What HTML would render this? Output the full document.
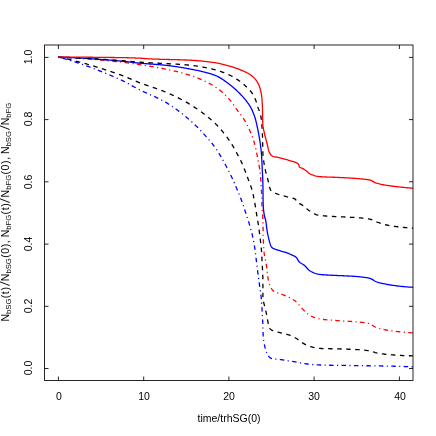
<!DOCTYPE html>
<html><head><meta charset="utf-8"><style>
html,body{margin:0;padding:0;background:#fff;}
body{width:436px;height:436px;position:relative;overflow:hidden;font-family:"Liberation Sans",sans-serif;color:#000;}
.t{will-change:transform;position:absolute;font-size:10.5px;line-height:12px;white-space:nowrap;}
.xt{width:40px;margin-left:-19.4px;text-align:center;top:390.0px;}
.yt{width:40px;height:12px;text-align:center;transform:rotate(-90deg);transform-origin:50% 50%;left:7.6px;margin-top:-6.3px;}
.yl{width:300px;height:14px;line-height:14px;text-align:center;transform:rotate(-90deg);transform-origin:50% 50%;left:-145px;top:205.3px;}
.yl sub{font-size:7.7px;vertical-align:baseline;position:relative;top:2.3px;line-height:0;margin-right:0.4px;}
.yl i{font-style:normal;letter-spacing:0.6px;}
.yl .s{display:inline-block;width:5.3px;position:relative;height:10px;vertical-align:baseline;}
.yl .s:after{content:"";position:absolute;left:2.2px;top:0.2px;width:0.8px;height:10.8px;background:#111;transform:rotate(21deg);}
</style></head><body>
<svg width="436" height="436" viewBox="0 0 436 436" style="position:absolute;left:0;top:0">
<defs><clipPath id="c"><rect x="44.5" y="45.0" width="368.5" height="335.5"/></clipPath></defs>
<g clip-path="url(#c)" fill="none" stroke-linejoin="round">
<path d="M58.20,57.10 L59.18,57.35 L60.16,57.60 L61.14,57.86 L62.11,58.12 L63.09,58.39 L64.06,58.66 L65.03,58.93 L66.00,59.20 L66.97,59.48 L67.94,59.76 L68.90,60.05 L69.87,60.34 L70.83,60.63 L71.79,60.92 L72.75,61.22 L73.71,61.52 L74.67,61.83 L75.63,62.13 L76.58,62.44 L77.54,62.76 L78.49,63.07 L79.44,63.39 L80.39,63.71 L81.34,64.04 L82.29,64.36 L83.23,64.69 L84.18,65.03 L85.12,65.36 L86.07,65.70 L87.01,66.04 L87.95,66.38 L88.89,66.73 L89.83,67.07 L90.76,67.42 L91.70,67.77 L92.64,68.13 L93.57,68.49 L94.50,68.84 L95.44,69.21 L96.37,69.57 L97.30,69.93 L98.23,70.30 L99.15,70.67 L100.08,71.04 L101.01,71.41 L101.93,71.79 L102.86,72.16 L103.78,72.54 L104.70,72.92 L105.62,73.30 L106.54,73.69 L107.46,74.07 L108.38,74.46 L109.30,74.85 L110.21,75.24 L111.13,75.63 L112.04,76.02 L112.96,76.41 L113.87,76.81 L114.78,77.20 L115.69,77.60 L116.61,78.00 L117.52,78.40 L118.42,78.80 L119.33,79.20 L120.24,79.61 L121.15,80.02 L122.04,80.44 L122.94,80.88 L123.83,81.32 L124.72,81.77 L125.61,82.23 L126.49,82.70 L127.38,83.17 L128.26,83.65 L129.14,84.13 L130.01,84.61 L130.89,85.10 L131.77,85.58 L132.65,86.07 L133.52,86.56 L134.40,87.04 L135.28,87.52 L136.16,88.00 L137.05,88.47 L137.93,88.94 L138.82,89.40 L139.71,89.86 L140.61,90.30 L141.51,90.74 L142.41,91.17 L143.32,91.60 L144.23,92.02 L145.14,92.44 L146.06,92.85 L146.97,93.27 L147.89,93.68 L148.81,94.08 L149.73,94.49 L150.65,94.90 L151.57,95.30 L152.49,95.71 L153.41,96.12 L154.32,96.53 L155.24,96.95 L156.15,97.36 L157.05,97.79 L157.96,98.21 L158.86,98.65 L159.75,99.09 L160.64,99.53 L161.52,99.99 L162.40,100.45 L163.27,100.92 L164.13,101.40 L164.99,101.89 L165.84,102.40 L166.69,102.91 L167.54,103.42 L168.38,103.95 L169.22,104.48 L170.06,105.02 L170.90,105.57 L171.73,106.12 L172.56,106.69 L173.39,107.25 L174.22,107.83 L175.04,108.41 L175.86,108.99 L176.67,109.59 L177.48,110.18 L178.29,110.79 L179.10,111.39 L179.90,112.00 L180.70,112.62 L181.49,113.24 L182.28,113.86 L183.07,114.49 L183.85,115.12 L184.63,115.76 L185.41,116.39 L186.18,117.03 L186.94,117.68 L187.70,118.32 L188.46,118.97 L189.21,119.62 L189.96,120.27 L190.70,120.92 L191.44,121.58 L192.18,122.25 L192.91,122.92 L193.64,123.60 L194.37,124.29 L195.09,124.98 L195.81,125.67 L196.52,126.37 L197.23,127.08 L197.94,127.79 L198.64,128.51 L199.34,129.23 L200.04,129.95 L200.73,130.68 L201.42,131.41 L202.11,132.14 L202.79,132.88 L203.47,133.62 L204.15,134.36 L204.82,135.11 L205.49,135.85 L206.16,136.60 L206.83,137.35 L207.49,138.11 L208.15,138.86 L208.80,139.61 L209.46,140.37 L210.11,141.12 L210.76,141.88 L211.40,142.65 L212.05,143.42 L212.68,144.20 L213.30,144.99 L213.91,145.78 L214.50,146.59 L215.07,147.40 L215.63,148.22 L216.18,149.04 L216.73,149.87 L217.27,150.71 L217.81,151.54 L218.34,152.39 L218.87,153.23 L219.39,154.08 L219.91,154.94 L220.43,155.80 L220.94,156.66 L221.44,157.52 L221.94,158.39 L222.44,159.26 L222.94,160.14 L223.43,161.01 L223.91,161.89 L224.39,162.78 L224.87,163.66 L225.35,164.54 L225.82,165.43 L226.29,166.32 L226.75,167.21 L227.21,168.10 L227.67,169.00 L228.13,169.89 L228.58,170.79 L229.03,171.68 L229.48,172.58 L229.93,173.48 L230.37,174.37 L230.81,175.27 L231.24,176.17 L231.68,177.07 L232.11,177.97 L232.53,178.87 L232.95,179.78 L233.36,180.69 L233.77,181.60 L234.17,182.52 L234.56,183.44 L234.96,184.36 L235.35,185.28 L235.74,186.20 L236.13,187.13 L236.51,188.05 L236.90,188.97 L237.28,189.90 L237.67,190.82 L238.05,191.74 L238.44,192.67 L238.82,193.59 L239.20,194.52 L239.58,195.44 L239.95,196.37 L240.32,197.30 L240.69,198.23 L241.05,199.16 L241.41,200.10 L241.76,201.03 L242.10,201.97 L242.43,202.91 L242.76,203.86 L243.08,204.80 L243.40,205.75 L243.71,206.70 L244.02,207.65 L244.33,208.60 L244.64,209.56 L244.94,210.51 L245.25,211.46 L245.55,212.42 L245.86,213.37 L246.17,214.32 L246.48,215.27 L246.80,216.22 L247.11,217.17 L247.43,218.12 L247.74,219.07 L248.05,220.02 L248.36,220.97 L248.66,221.92 L248.96,222.88 L249.25,223.83 L249.54,224.79 L249.82,225.75 L250.09,226.71 L250.37,227.67 L250.64,228.64 L250.90,229.60 L251.17,230.57 L251.42,231.54 L251.67,232.50 L251.91,233.47 L252.15,234.45 L252.37,235.42 L252.59,236.39 L252.80,237.37 L253.00,238.35 L253.20,239.33 L253.40,240.31 L253.59,241.29 L253.78,242.28 L253.96,243.26 L254.14,244.24 L254.31,245.23 L254.48,246.22 L254.64,247.20 L254.79,248.19 L254.94,249.18 L255.08,250.17 L255.22,251.16 L255.35,252.15 L255.48,253.14 L255.60,254.13 L255.72,255.13 L255.84,256.12 L255.95,257.11 L256.07,258.11 L256.19,259.10 L256.30,260.10 L256.42,261.09 L256.55,262.08 L256.67,263.07 L256.79,264.07 L256.91,265.06 L257.04,266.05 L257.16,267.04 L257.28,268.04 L257.40,269.03 L257.52,270.02 L257.65,271.01 L257.77,272.01 L257.89,273.00 L258.02,273.99 L258.15,274.98 L258.28,275.97 L258.41,276.96 L258.55,277.96 L258.68,278.95 L258.82,279.94 L258.95,280.93 L259.09,281.92 L259.23,282.91 L259.36,283.90 L259.50,284.89 L259.63,285.88 L259.76,286.87 L259.90,287.86 L260.04,288.85 L260.19,289.84 L260.33,290.83 L260.48,291.82 L260.62,292.82 L260.76,293.81 L260.89,294.80 L261.01,295.79 L261.13,296.78 L261.23,297.78 L261.32,298.77 L261.41,299.77 L261.49,300.76 L261.56,301.76 L261.63,302.76 L261.70,303.75 L261.76,304.75 L261.82,305.75 L261.88,306.75 L261.94,307.75 L262.00,308.75 L262.06,309.75 L262.11,310.74 L262.18,311.74 L262.24,312.74 L262.30,313.74 L262.36,314.74 L262.41,315.74 L262.47,316.73 L262.53,317.73 L262.58,318.73 L262.64,319.73 L262.69,320.73 L262.73,321.73 L262.78,322.73 L262.82,323.73 L262.85,324.73 L262.88,325.73 L262.91,326.73 L262.93,327.73 L262.96,328.73 L262.98,329.73 L263.01,330.73 L263.03,331.73 L263.06,332.73 L263.10,333.73 L263.14,334.73 L263.19,335.72 L263.24,336.72 L263.33,337.71 L263.43,338.71 L263.56,339.70 L263.70,340.70 L263.86,341.69 L264.03,342.68 L264.22,343.67 L264.41,344.65 L264.61,345.62 L264.82,346.59 L265.04,347.57 L265.29,348.56 L265.57,349.54 L265.87,350.52 L266.20,351.48 L266.57,352.41 L266.96,353.31 L267.39,354.16 L267.89,355.06 L268.49,355.99 L269.16,356.86 L269.89,357.59 L270.64,358.09 L271.42,358.36 L272.27,358.58 L273.19,358.76 L274.15,358.91 L275.16,359.04 L276.19,359.16 L277.24,359.26 L278.31,359.37 L279.37,359.47 L280.42,359.58 L281.45,359.71 L282.44,359.85 L283.43,360.00 L284.42,360.15 L285.41,360.31 L286.40,360.46 L287.38,360.61 L288.37,360.77 L289.36,360.93 L290.35,361.09 L291.33,361.24 L292.32,361.40 L293.31,361.56 L294.30,361.72 L295.28,361.88 L296.27,362.04 L297.26,362.21 L298.24,362.39 L299.23,362.58 L300.21,362.77 L301.20,362.96 L302.18,363.15 L303.17,363.33 L304.15,363.51 L305.14,363.68 L306.12,363.84 L307.11,363.99 L308.10,364.12 L309.09,364.23 L310.08,364.32 L311.08,364.41 L312.07,364.49 L313.07,364.56 L314.06,364.64 L315.06,364.70 L316.06,364.77 L317.06,364.83 L318.06,364.88 L319.06,364.93 L320.06,364.98 L321.06,365.02 L322.06,365.06 L323.06,365.09 L324.06,365.11 L325.06,365.14 L326.06,365.16 L327.06,365.18 L328.06,365.21 L329.06,365.23 L330.06,365.25 L331.05,365.27 L332.05,365.28 L333.05,365.30 L334.05,365.32 L335.05,365.33 L336.05,365.35 L337.05,365.36 L338.05,365.37 L339.05,365.39 L340.05,365.40 L341.05,365.41 L342.05,365.43 L343.05,365.44 L344.05,365.45 L345.05,365.46 L346.05,365.47 L347.05,365.48 L348.05,365.49 L349.05,365.50 L350.05,365.51 L351.05,365.52 L352.05,365.54 L353.06,365.55 L354.06,365.56 L355.06,365.57 L356.06,365.58 L357.06,365.59 L358.06,365.60 L359.06,365.62 L360.06,365.63 L361.06,365.64 L362.06,365.66 L363.06,365.67 L364.06,365.69 L365.06,365.70 L366.06,365.72 L367.06,365.74 L368.06,365.75 L369.06,365.77 L370.06,365.79 L371.06,365.80 L372.05,365.82 L373.05,365.83 L374.05,365.85 L375.05,365.87 L376.05,365.89 L377.05,365.90 L378.05,365.92 L379.05,365.94 L380.05,365.95 L381.05,365.97 L382.05,365.99 L383.05,366.01 L384.05,366.03 L385.05,366.05 L386.05,366.07 L387.05,366.09 L388.05,366.11 L389.05,366.13 L390.05,366.15 L391.05,366.17 L392.05,366.19 L393.05,366.22 L394.05,366.24 L395.05,366.27 L396.05,366.29 L397.05,366.32 L398.05,366.34 L399.05,366.37 L400.05,366.40 L401.05,366.43 L402.05,366.45 L403.05,366.48 L404.05,366.51 L405.05,366.54 L406.05,366.57 L407.05,366.61 L408.05,366.64 L409.04,366.67 L410.04,366.70 L411.04,366.73 L412.04,366.77 L413.00,366.80" stroke="#0000ff" stroke-width="1.3" stroke-dasharray="1.13,3.39,4.52,3.39"/>
<path d="M58.20,57.10 L59.19,57.30 L60.18,57.50 L61.16,57.70 L62.15,57.91 L63.13,58.11 L64.12,58.33 L65.10,58.54 L66.08,58.76 L67.06,58.98 L68.04,59.21 L69.02,59.43 L70.00,59.66 L70.97,59.90 L71.95,60.13 L72.93,60.37 L73.90,60.61 L74.87,60.86 L75.84,61.10 L76.82,61.35 L77.79,61.60 L78.76,61.86 L79.73,62.11 L80.69,62.37 L81.66,62.63 L82.63,62.90 L83.59,63.16 L84.56,63.43 L85.52,63.70 L86.48,63.97 L87.45,64.25 L88.41,64.53 L89.37,64.80 L90.33,65.09 L91.29,65.37 L92.25,65.65 L93.21,65.94 L94.16,66.23 L95.12,66.52 L96.07,66.81 L97.03,67.11 L97.98,67.40 L98.94,67.70 L99.89,68.00 L100.84,68.30 L101.79,68.61 L102.74,68.91 L103.69,69.22 L104.64,69.52 L105.59,69.83 L106.54,70.14 L107.49,70.46 L108.44,70.77 L109.38,71.08 L110.33,71.40 L111.27,71.72 L112.22,72.03 L113.16,72.35 L114.11,72.67 L115.05,72.99 L115.99,73.32 L116.94,73.64 L117.88,73.96 L118.82,74.29 L119.76,74.62 L120.70,74.95 L121.63,75.29 L122.57,75.64 L123.50,76.00 L124.42,76.37 L125.35,76.74 L126.27,77.12 L127.20,77.51 L128.12,77.90 L129.04,78.30 L129.96,78.69 L130.88,79.09 L131.80,79.49 L132.72,79.89 L133.64,80.29 L134.56,80.68 L135.48,81.07 L136.40,81.46 L137.33,81.84 L138.26,82.22 L139.19,82.59 L140.12,82.95 L141.05,83.30 L141.99,83.64 L142.93,83.99 L143.88,84.32 L144.82,84.65 L145.77,84.98 L146.72,85.30 L147.67,85.63 L148.62,85.95 L149.57,86.26 L150.52,86.58 L151.47,86.90 L152.42,87.22 L153.37,87.53 L154.32,87.85 L155.27,88.18 L156.21,88.50 L157.16,88.83 L158.10,89.16 L159.04,89.50 L159.98,89.84 L160.92,90.19 L161.85,90.54 L162.78,90.90 L163.70,91.27 L164.62,91.64 L165.54,92.03 L166.46,92.42 L167.38,92.81 L168.29,93.21 L169.21,93.61 L170.12,94.02 L171.04,94.43 L171.95,94.85 L172.86,95.28 L173.77,95.70 L174.68,96.14 L175.58,96.57 L176.49,97.01 L177.39,97.46 L178.29,97.91 L179.19,98.37 L180.08,98.83 L180.97,99.29 L181.86,99.76 L182.74,100.24 L183.62,100.72 L184.50,101.20 L185.37,101.69 L186.23,102.18 L187.10,102.67 L187.96,103.18 L188.81,103.68 L189.66,104.19 L190.50,104.71 L191.34,105.23 L192.19,105.75 L193.03,106.29 L193.87,106.83 L194.71,107.37 L195.55,107.93 L196.39,108.48 L197.22,109.05 L198.06,109.62 L198.89,110.19 L199.71,110.77 L200.54,111.36 L201.36,111.95 L202.17,112.55 L202.99,113.15 L203.79,113.76 L204.60,114.37 L205.39,114.99 L206.19,115.61 L206.97,116.24 L207.76,116.88 L208.53,117.51 L209.30,118.16 L210.06,118.81 L210.82,119.46 L211.56,120.12 L212.30,120.78 L213.03,121.45 L213.76,122.12 L214.47,122.79 L215.18,123.47 L215.88,124.16 L216.57,124.86 L217.27,125.57 L217.95,126.29 L218.63,127.02 L219.31,127.76 L219.98,128.51 L220.64,129.26 L221.30,130.03 L221.95,130.80 L222.59,131.57 L223.23,132.35 L223.87,133.14 L224.49,133.93 L225.11,134.73 L225.73,135.53 L226.33,136.34 L226.93,137.15 L227.52,137.96 L228.11,138.78 L228.69,139.59 L229.25,140.41 L229.82,141.23 L230.37,142.05 L230.91,142.88 L231.44,143.72 L231.97,144.57 L232.48,145.42 L232.99,146.29 L233.49,147.15 L233.99,148.02 L234.48,148.90 L234.96,149.78 L235.45,150.66 L235.92,151.54 L236.40,152.43 L236.88,153.31 L237.35,154.19 L237.82,155.08 L238.30,155.96 L238.78,156.84 L239.25,157.72 L239.71,158.60 L240.17,159.49 L240.62,160.39 L241.05,161.29 L241.47,162.19 L241.88,163.10 L242.28,164.02 L242.68,164.94 L243.06,165.86 L243.44,166.79 L243.82,167.72 L244.19,168.65 L244.56,169.58 L244.93,170.51 L245.29,171.44 L245.66,172.37 L246.01,173.30 L246.37,174.24 L246.72,175.17 L247.07,176.11 L247.42,177.05 L247.76,177.99 L248.11,178.93 L248.45,179.86 L248.80,180.80 L249.15,181.74 L249.51,182.67 L249.87,183.61 L250.23,184.55 L250.57,185.49 L250.91,186.43 L251.23,187.37 L251.53,188.33 L251.81,189.28 L252.07,190.24 L252.33,191.21 L252.57,192.18 L252.80,193.15 L253.03,194.13 L253.25,195.11 L253.46,196.09 L253.67,197.07 L253.87,198.04 L254.07,199.02 L254.26,200.01 L254.44,200.99 L254.62,201.97 L254.79,202.96 L254.96,203.94 L255.13,204.93 L255.30,205.92 L255.47,206.90 L255.63,207.89 L255.79,208.88 L255.94,209.86 L256.09,210.85 L256.24,211.84 L256.40,212.83 L256.55,213.82 L256.70,214.81 L256.86,215.79 L257.03,216.78 L257.19,217.76 L257.36,218.75 L257.53,219.74 L257.70,220.72 L257.86,221.71 L258.02,222.70 L258.17,223.68 L258.33,224.67 L258.48,225.66 L258.62,226.65 L258.77,227.64 L258.91,228.63 L259.06,229.62 L259.20,230.61 L259.33,231.60 L259.46,232.59 L259.60,233.58 L259.72,234.57 L259.85,235.57 L259.97,236.56 L260.08,237.55 L260.20,238.55 L260.31,239.54 L260.42,240.53 L260.53,241.53 L260.64,242.52 L260.75,243.52 L260.85,244.51 L260.96,245.50 L261.07,246.50 L261.18,247.49 L261.29,248.49 L261.39,249.48 L261.48,250.48 L261.56,251.48 L261.63,252.47 L261.69,253.47 L261.75,254.47 L261.80,255.47 L261.85,256.47 L261.90,257.46 L261.95,258.46 L261.99,259.46 L262.04,260.46 L262.09,261.46 L262.14,262.46 L262.19,263.46 L262.25,264.46 L262.30,265.46 L262.36,266.45 L262.41,267.45 L262.47,268.45 L262.52,269.45 L262.56,270.45 L262.60,271.45 L262.64,272.45 L262.68,273.45 L262.73,274.45 L262.77,275.44 L262.81,276.44 L262.84,277.44 L262.87,278.44 L262.89,279.44 L262.90,280.44 L262.90,281.44 L262.90,282.44 L262.90,283.45 L262.90,284.45 L262.90,285.45 L262.90,286.46 L262.90,287.46 L262.90,288.46 L262.90,289.47 L262.90,290.47 L262.90,291.47 L262.90,292.47 L262.90,293.47 L262.90,294.47 L262.90,295.46 L262.90,296.45 L262.90,297.45 L262.92,298.43 L263.03,299.42 L263.19,300.40 L263.40,301.38 L263.65,302.36 L263.91,303.34 L264.17,304.32 L264.41,305.29 L264.63,306.27 L264.85,307.24 L265.09,308.22 L265.33,309.19 L265.58,310.16 L265.82,311.13 L266.06,312.10 L266.29,313.07 L266.50,314.05 L266.71,315.03 L266.89,316.01 L267.06,317.00 L267.22,317.99 L267.38,318.98 L267.54,319.97 L267.71,320.95 L267.90,321.93 L268.11,322.91 L268.34,323.89 L268.58,324.93 L268.84,325.98 L269.14,326.99 L269.50,327.91 L269.91,328.67 L270.48,329.29 L271.30,329.83 L272.26,330.30 L273.27,330.72 L274.22,331.08 L275.15,331.40 L276.11,331.68 L277.07,331.94 L278.05,332.18 L279.03,332.42 L280.01,332.65 L280.99,332.89 L281.96,333.15 L282.93,333.39 L283.91,333.62 L284.89,333.86 L285.87,334.09 L286.84,334.33 L287.81,334.59 L288.76,334.86 L289.71,335.16 L290.63,335.50 L291.56,335.87 L292.47,336.29 L293.38,336.74 L294.27,337.21 L295.14,337.70 L296.00,338.20 L296.83,338.74 L297.63,339.34 L298.42,339.97 L299.20,340.61 L299.99,341.24 L300.79,341.83 L301.62,342.37 L302.47,342.89 L303.34,343.40 L304.22,343.90 L305.11,344.39 L306.01,344.85 L306.92,345.29 L307.84,345.69 L308.76,346.05 L309.69,346.37 L310.63,346.65 L311.59,346.92 L312.56,347.19 L313.53,347.44 L314.52,347.67 L315.51,347.89 L316.50,348.07 L317.49,348.22 L318.49,348.33 L319.48,348.40 L320.47,348.45 L321.46,348.50 L322.45,348.54 L323.45,348.57 L324.45,348.60 L325.45,348.63 L326.45,348.66 L327.45,348.68 L328.45,348.70 L329.45,348.72 L330.46,348.74 L331.46,348.76 L332.46,348.78 L333.47,348.80 L334.47,348.82 L335.47,348.85 L336.47,348.88 L337.47,348.91 L338.47,348.94 L339.47,348.97 L340.47,348.99 L341.47,349.02 L342.47,349.05 L343.47,349.08 L344.47,349.11 L345.47,349.14 L346.47,349.17 L347.47,349.20 L348.47,349.23 L349.47,349.26 L350.47,349.30 L351.47,349.33 L352.47,349.37 L353.47,349.41 L354.47,349.45 L355.47,349.50 L356.47,349.55 L357.46,349.60 L358.46,349.65 L359.46,349.71 L360.45,349.78 L361.45,349.86 L362.45,349.95 L363.45,350.05 L364.44,350.17 L365.44,350.29 L366.43,350.43 L367.42,350.57 L368.40,350.72 L369.38,350.89 L370.36,351.10 L371.32,351.36 L372.28,351.64 L373.25,351.94 L374.21,352.23 L375.17,352.52 L376.14,352.77 L377.11,352.98 L378.09,353.16 L379.07,353.34 L380.06,353.50 L381.04,353.67 L382.03,353.82 L383.03,353.97 L384.02,354.11 L385.01,354.24 L386.01,354.36 L387.00,354.47 L388.00,354.57 L389.00,354.65 L389.99,354.73 L390.98,354.80 L391.98,354.87 L392.97,354.94 L393.97,355.01 L394.97,355.08 L395.96,355.15 L396.96,355.21 L397.96,355.28 L398.95,355.34 L399.95,355.39 L400.95,355.45 L401.95,355.50 L402.95,355.55 L403.95,355.59 L404.95,355.63 L405.95,355.67 L406.95,355.70 L407.95,355.73 L408.95,355.76 L409.96,355.77 L410.96,355.79 L411.96,355.80 L412.97,355.80 L413.00,355.80" stroke="#000" stroke-width="1.3" stroke-dasharray="4.52,4.52"/>
<path d="M58.20,57.10 L59.20,57.14 L60.20,57.18 L61.20,57.22 L62.20,57.27 L63.20,57.31 L64.20,57.36 L65.20,57.41 L66.20,57.46 L67.20,57.51 L68.20,57.57 L69.20,57.62 L70.20,57.68 L71.20,57.74 L72.20,57.80 L73.20,57.86 L74.20,57.92 L75.20,57.99 L76.20,58.06 L77.19,58.12 L78.19,58.19 L79.19,58.26 L80.19,58.34 L81.19,58.41 L82.18,58.48 L83.18,58.56 L84.18,58.64 L85.18,58.71 L86.17,58.79 L87.17,58.87 L88.17,58.95 L89.16,59.04 L90.16,59.12 L91.16,59.21 L92.15,59.29 L93.15,59.38 L94.15,59.47 L95.14,59.55 L96.14,59.64 L97.13,59.73 L98.13,59.83 L99.12,59.92 L100.12,60.01 L101.11,60.10 L102.11,60.20 L103.10,60.29 L104.10,60.39 L105.09,60.49 L106.09,60.58 L107.08,60.68 L108.08,60.78 L109.07,60.88 L110.07,60.98 L111.06,61.08 L112.06,61.18 L113.05,61.28 L114.04,61.38 L115.04,61.49 L116.03,61.59 L117.03,61.69 L118.02,61.79 L119.01,61.90 L120.01,62.00 L121.00,62.11 L121.99,62.22 L122.99,62.33 L123.98,62.45 L124.97,62.57 L125.96,62.70 L126.95,62.82 L127.95,62.96 L128.94,63.09 L129.93,63.22 L130.92,63.36 L131.91,63.50 L132.90,63.65 L133.89,63.79 L134.88,63.93 L135.87,64.08 L136.86,64.23 L137.85,64.38 L138.84,64.53 L139.83,64.67 L140.82,64.82 L141.80,64.97 L142.79,65.12 L143.78,65.28 L144.77,65.43 L145.76,65.58 L146.75,65.74 L147.74,65.90 L148.72,66.06 L149.71,66.22 L150.70,66.38 L151.69,66.54 L152.67,66.71 L153.66,66.88 L154.65,67.05 L155.63,67.22 L156.62,67.40 L157.60,67.58 L158.58,67.76 L159.57,67.94 L160.55,68.12 L161.53,68.31 L162.51,68.50 L163.49,68.70 L164.47,68.89 L165.45,69.09 L166.43,69.29 L167.41,69.50 L168.39,69.71 L169.37,69.91 L170.35,70.13 L171.33,70.34 L172.31,70.56 L173.29,70.78 L174.27,71.01 L175.25,71.23 L176.22,71.47 L177.20,71.70 L178.18,71.94 L179.15,72.19 L180.12,72.44 L181.09,72.69 L182.06,72.95 L183.02,73.21 L183.99,73.48 L184.95,73.75 L185.90,74.03 L186.86,74.31 L187.81,74.60 L188.75,74.90 L189.70,75.20 L190.64,75.51 L191.58,75.83 L192.52,76.15 L193.46,76.48 L194.41,76.82 L195.35,77.17 L196.30,77.53 L197.24,77.90 L198.19,78.27 L199.13,78.65 L200.06,79.04 L201.00,79.44 L201.93,79.84 L202.86,80.25 L203.78,80.67 L204.70,81.10 L205.61,81.53 L206.52,81.98 L207.42,82.43 L208.32,82.88 L209.20,83.35 L210.08,83.82 L210.95,84.30 L211.81,84.79 L212.67,85.28 L213.51,85.78 L214.34,86.29 L215.16,86.80 L215.98,87.34 L216.79,87.89 L217.59,88.47 L218.39,89.06 L219.18,89.67 L219.97,90.30 L220.74,90.95 L221.51,91.61 L222.28,92.28 L223.03,92.96 L223.78,93.66 L224.51,94.36 L225.24,95.07 L225.95,95.78 L226.66,96.50 L227.36,97.23 L228.04,97.95 L228.71,98.68 L229.37,99.41 L230.01,100.16 L230.64,100.93 L231.25,101.71 L231.86,102.50 L232.45,103.31 L233.04,104.12 L233.62,104.94 L234.19,105.77 L234.76,106.60 L235.33,107.43 L235.91,108.26 L236.48,109.08 L237.06,109.90 L237.65,110.72 L238.24,111.52 L238.85,112.32 L239.46,113.11 L240.08,113.91 L240.70,114.70 L241.32,115.49 L241.92,116.29 L242.51,117.09 L243.09,117.91 L243.64,118.73 L244.17,119.57 L244.68,120.43 L245.17,121.29 L245.66,122.16 L246.13,123.05 L246.60,123.94 L247.05,124.83 L247.50,125.73 L247.93,126.64 L248.36,127.54 L248.79,128.45 L249.21,129.35 L249.63,130.26 L250.05,131.17 L250.46,132.09 L250.86,133.00 L251.26,133.93 L251.65,134.85 L252.02,135.78 L252.37,136.71 L252.71,137.65 L253.03,138.59 L253.33,139.54 L253.62,140.49 L253.91,141.45 L254.18,142.42 L254.44,143.38 L254.69,144.35 L254.94,145.32 L255.18,146.30 L255.42,147.27 L255.65,148.25 L255.87,149.22 L256.09,150.20 L256.30,151.17 L256.51,152.15 L256.71,153.13 L256.90,154.11 L257.09,155.09 L257.28,156.08 L257.46,157.06 L257.64,158.05 L257.82,159.03 L258.00,160.01 L258.19,161.00 L258.38,161.98 L258.57,162.96 L258.76,163.95 L258.95,164.93 L259.14,165.91 L259.33,166.90 L259.50,167.88 L259.67,168.87 L259.83,169.86 L259.97,170.85 L260.09,171.83 L260.20,172.83 L260.30,173.82 L260.39,174.81 L260.48,175.80 L260.57,176.80 L260.65,177.80 L260.72,178.79 L260.80,179.79 L260.87,180.79 L260.94,181.79 L261.00,182.79 L261.06,183.79 L261.12,184.78 L261.18,185.78 L261.24,186.78 L261.29,187.78 L261.34,188.78 L261.39,189.78 L261.44,190.78 L261.49,191.78 L261.54,192.78 L261.58,193.78 L261.62,194.78 L261.66,195.78 L261.69,196.78 L261.73,197.78 L261.76,198.78 L261.79,199.78 L261.82,200.78 L261.86,201.78 L261.89,202.78 L261.92,203.77 L261.96,204.77 L262.00,205.77 L262.04,206.77 L262.09,207.77 L262.14,208.77 L262.20,209.77 L262.27,210.76 L262.35,211.76 L262.43,212.76 L262.51,213.76 L262.59,214.75 L262.66,215.75 L262.74,216.75 L262.80,217.75 L262.85,218.75 L262.89,219.74 L262.92,220.74 L262.95,221.74 L262.97,222.74 L262.99,223.74 L263.01,224.74 L263.02,225.74 L263.04,226.74 L263.05,227.74 L263.07,228.74 L263.08,229.74 L263.09,230.74 L263.11,231.74 L263.13,232.74 L263.15,233.74 L263.17,234.74 L263.19,235.74 L263.22,236.74 L263.25,237.74 L263.28,238.74 L263.32,239.74 L263.35,240.74 L263.39,241.75 L263.43,242.75 L263.48,243.75 L263.53,244.75 L263.58,245.75 L263.64,246.75 L263.70,247.75 L263.76,248.74 L263.83,249.74 L263.90,250.73 L263.98,251.72 L264.07,252.71 L264.19,253.70 L264.35,254.68 L264.53,255.67 L264.73,256.65 L264.94,257.63 L265.16,258.61 L265.38,259.59 L265.59,260.57 L265.79,261.55 L265.97,262.54 L266.13,263.52 L266.28,264.51 L266.42,265.50 L266.56,266.49 L266.69,267.49 L266.82,268.48 L266.94,269.47 L267.07,270.46 L267.21,271.45 L267.34,272.45 L267.45,273.44 L267.57,274.44 L267.68,275.44 L267.80,276.44 L267.93,277.43 L268.06,278.42 L268.21,279.41 L268.38,280.38 L268.58,281.35 L268.81,282.33 L269.10,283.30 L269.43,284.26 L269.79,285.20 L270.18,286.11 L270.59,287.00 L271.08,287.91 L271.62,288.82 L272.22,289.69 L272.86,290.46 L273.55,291.09 L274.30,291.58 L275.16,291.99 L276.09,292.36 L277.08,292.69 L278.08,293.01 L279.07,293.34 L280.02,293.68 L280.96,294.03 L281.90,294.37 L282.84,294.71 L283.78,295.05 L284.71,295.41 L285.63,295.80 L286.54,296.21 L287.45,296.64 L288.35,297.08 L289.24,297.54 L290.12,298.02 L290.99,298.50 L291.87,298.98 L292.76,299.47 L293.64,299.98 L294.49,300.51 L295.31,301.07 L296.08,301.67 L296.80,302.33 L297.48,303.04 L298.13,303.80 L298.76,304.59 L299.38,305.40 L300.01,306.20 L300.65,306.97 L301.33,307.72 L302.02,308.44 L302.72,309.16 L303.43,309.90 L304.14,310.64 L304.87,311.37 L305.60,312.08 L306.35,312.77 L307.11,313.43 L307.88,314.04 L308.68,314.61 L309.49,315.13 L310.33,315.59 L311.20,316.04 L312.10,316.47 L313.02,316.90 L313.96,317.30 L314.91,317.67 L315.88,318.01 L316.85,318.31 L317.83,318.58 L318.80,318.79 L319.76,318.96 L320.73,319.11 L321.70,319.24 L322.69,319.37 L323.67,319.48 L324.66,319.59 L325.66,319.69 L326.65,319.79 L327.66,319.87 L328.66,319.96 L329.66,320.04 L330.67,320.11 L331.68,320.19 L332.68,320.26 L333.69,320.33 L334.69,320.40 L335.70,320.48 L336.70,320.55 L337.69,320.63 L338.69,320.71 L339.69,320.78 L340.69,320.84 L341.68,320.91 L342.68,320.97 L343.68,321.03 L344.68,321.09 L345.68,321.15 L346.68,321.21 L347.68,321.27 L348.67,321.33 L349.67,321.39 L350.67,321.45 L351.67,321.52 L352.67,321.59 L353.66,321.66 L354.66,321.74 L355.66,321.82 L356.65,321.90 L357.65,321.99 L358.66,322.08 L359.67,322.17 L360.68,322.26 L361.69,322.36 L362.69,322.47 L363.69,322.59 L364.69,322.72 L365.67,322.86 L366.64,323.02 L367.60,323.20 L368.53,323.41 L369.45,323.73 L370.34,324.15 L371.22,324.64 L372.09,325.17 L372.97,325.72 L373.85,326.25 L374.74,326.73 L375.65,327.14 L376.58,327.48 L377.52,327.81 L378.47,328.12 L379.43,328.42 L380.40,328.70 L381.37,328.97 L382.34,329.21 L383.32,329.44 L384.29,329.64 L385.27,329.83 L386.25,330.01 L387.23,330.18 L388.22,330.34 L389.20,330.50 L390.19,330.65 L391.19,330.79 L392.18,330.93 L393.17,331.06 L394.17,331.18 L395.16,331.30 L396.16,331.42 L397.15,331.53 L398.15,331.64 L399.14,331.74 L400.13,331.85 L401.13,331.95 L402.12,332.05 L403.12,332.14 L404.11,332.24 L405.11,332.33 L406.11,332.41 L407.10,332.50 L408.10,332.58 L409.10,332.65 L410.10,332.72 L411.09,332.79 L412.09,332.85 L413.00,332.90" stroke="#ff0000" stroke-width="1.3" stroke-dasharray="1.13,3.39,4.52,3.39"/>
<path d="M58.20,57.10 L59.20,57.13 L60.20,57.16 L61.20,57.19 L62.20,57.22 L63.20,57.26 L64.20,57.30 L65.20,57.33 L66.20,57.37 L67.20,57.41 L68.20,57.46 L69.20,57.50 L70.20,57.54 L71.20,57.59 L72.20,57.64 L73.20,57.69 L74.20,57.74 L75.20,57.79 L76.20,57.84 L77.20,57.89 L78.20,57.95 L79.20,58.00 L80.20,58.06 L81.19,58.12 L82.19,58.18 L83.19,58.24 L84.19,58.30 L85.19,58.36 L86.19,58.43 L87.18,58.49 L88.18,58.55 L89.18,58.62 L90.18,58.69 L91.18,58.76 L92.17,58.82 L93.17,58.89 L94.17,58.96 L95.17,59.04 L96.16,59.11 L97.16,59.18 L98.16,59.25 L99.15,59.33 L100.15,59.40 L101.15,59.48 L102.15,59.55 L103.14,59.63 L104.14,59.71 L105.14,59.79 L106.13,59.86 L107.13,59.94 L108.12,60.02 L109.12,60.10 L110.12,60.18 L111.11,60.26 L112.11,60.34 L113.11,60.43 L114.10,60.51 L115.10,60.59 L116.09,60.67 L117.09,60.76 L118.09,60.84 L119.08,60.92 L120.08,61.01 L121.07,61.09 L122.07,61.19 L123.06,61.29 L124.06,61.39 L125.05,61.50 L126.04,61.61 L127.04,61.72 L128.03,61.84 L129.02,61.96 L130.02,62.08 L131.01,62.20 L132.00,62.32 L133.00,62.44 L133.99,62.56 L134.98,62.67 L135.98,62.78 L136.97,62.89 L137.97,63.00 L138.96,63.10 L139.96,63.20 L140.95,63.29 L141.95,63.37 L142.94,63.46 L143.94,63.54 L144.94,63.62 L145.94,63.69 L146.93,63.77 L147.93,63.84 L148.93,63.91 L149.93,63.98 L150.93,64.05 L151.93,64.12 L152.92,64.19 L153.92,64.26 L154.92,64.34 L155.92,64.41 L156.92,64.48 L157.91,64.56 L158.91,64.64 L159.90,64.72 L160.90,64.81 L161.90,64.90 L162.89,64.99 L163.88,65.09 L164.88,65.19 L165.87,65.29 L166.86,65.40 L167.86,65.52 L168.85,65.64 L169.84,65.76 L170.83,65.89 L171.83,66.02 L172.82,66.15 L173.81,66.29 L174.80,66.43 L175.79,66.58 L176.78,66.73 L177.77,66.88 L178.76,67.03 L179.75,67.19 L180.74,67.35 L181.73,67.52 L182.72,67.68 L183.70,67.85 L184.69,68.03 L185.67,68.20 L186.65,68.38 L187.64,68.56 L188.62,68.74 L189.60,68.92 L190.58,69.11 L191.56,69.30 L192.55,69.49 L193.54,69.68 L194.53,69.87 L195.52,70.07 L196.51,70.27 L197.50,70.48 L198.50,70.69 L199.49,70.90 L200.48,71.12 L201.47,71.34 L202.45,71.57 L203.44,71.81 L204.42,72.05 L205.40,72.30 L206.37,72.55 L207.33,72.82 L208.30,73.09 L209.25,73.37 L210.20,73.65 L211.14,73.95 L212.08,74.26 L213.00,74.57 L213.92,74.90 L214.83,75.23 L215.73,75.59 L216.62,75.98 L217.51,76.40 L218.39,76.85 L219.26,77.33 L220.13,77.83 L221.00,78.36 L221.85,78.90 L222.70,79.46 L223.55,80.03 L224.38,80.62 L225.21,81.21 L226.03,81.80 L226.85,82.40 L227.66,83.00 L228.46,83.60 L229.26,84.19 L230.05,84.79 L230.83,85.41 L231.60,86.04 L232.37,86.68 L233.14,87.33 L233.90,87.98 L234.65,88.65 L235.39,89.33 L236.13,90.01 L236.86,90.70 L237.58,91.40 L238.30,92.10 L239.01,92.80 L239.72,93.51 L240.41,94.22 L241.11,94.94 L241.80,95.66 L242.48,96.40 L243.16,97.14 L243.83,97.89 L244.48,98.65 L245.13,99.42 L245.76,100.19 L246.38,100.98 L246.98,101.77 L247.57,102.57 L248.15,103.39 L248.72,104.22 L249.28,105.06 L249.81,105.91 L250.33,106.77 L250.81,107.64 L251.26,108.51 L251.70,109.41 L252.13,110.31 L252.55,111.22 L252.96,112.14 L253.34,113.07 L253.72,114.01 L254.07,114.95 L254.41,115.89 L254.73,116.84 L255.03,117.79 L255.31,118.74 L255.57,119.70 L255.83,120.66 L256.08,121.63 L256.31,122.60 L256.54,123.58 L256.76,124.56 L256.98,125.54 L257.19,126.52 L257.39,127.50 L257.59,128.48 L257.79,129.47 L257.99,130.45 L258.19,131.43 L258.38,132.41 L258.57,133.39 L258.76,134.37 L258.95,135.35 L259.13,136.34 L259.30,137.32 L259.47,138.31 L259.64,139.30 L259.79,140.28 L259.94,141.27 L260.08,142.26 L260.22,143.25 L260.35,144.24 L260.49,145.23 L260.62,146.23 L260.75,147.22 L260.87,148.21 L260.99,149.21 L261.10,150.20 L261.20,151.20 L261.30,152.19 L261.39,153.19 L261.47,154.18 L261.54,155.18 L261.61,156.18 L261.67,157.17 L261.73,158.17 L261.79,159.17 L261.84,160.17 L261.89,161.17 L261.94,162.16 L261.99,163.16 L262.04,164.16 L262.08,165.16 L262.13,166.16 L262.17,167.16 L262.22,168.16 L262.26,169.16 L262.31,170.16 L262.36,171.16 L262.40,172.16 L262.45,173.16 L262.50,174.16 L262.55,175.15 L262.60,176.15 L262.65,177.15 L262.70,178.15 L262.74,179.15 L262.78,180.15 L262.82,181.15 L262.85,182.15 L262.88,183.15 L262.90,184.15 L262.92,185.15 L262.94,186.15 L262.96,187.15 L262.97,188.15 L262.98,189.15 L263.00,190.15 L263.01,191.15 L263.01,192.15 L263.02,193.15 L263.03,194.15 L263.04,195.15 L263.05,196.16 L263.06,197.16 L263.07,198.16 L263.09,199.16 L263.10,200.16 L263.12,201.15 L263.13,202.15 L263.15,203.15 L263.18,204.15 L263.20,205.14 L263.24,206.14 L263.30,207.14 L263.38,208.14 L263.48,209.14 L263.58,210.14 L263.71,211.14 L263.84,212.13 L263.99,213.12 L264.14,214.11 L264.31,215.10 L264.48,216.07 L264.70,217.04 L265.00,218.00 L265.32,218.95 L265.58,219.92 L265.77,220.89 L265.94,221.87 L266.09,222.86 L266.22,223.85 L266.35,224.85 L266.47,225.84 L266.59,226.84 L266.71,227.83 L266.84,228.83 L266.98,229.82 L267.13,230.81 L267.30,231.79 L267.48,232.78 L267.66,233.76 L267.85,234.75 L268.05,235.73 L268.25,236.72 L268.47,237.69 L268.71,238.67 L268.95,239.63 L269.21,240.59 L269.49,241.56 L269.78,242.59 L270.09,243.65 L270.44,244.68 L270.82,245.66 L271.24,246.54 L271.72,247.27 L272.26,247.84 L272.99,248.31 L273.87,248.73 L274.85,249.11 L275.89,249.46 L276.94,249.79 L277.94,250.11 L278.89,250.43 L279.84,250.73 L280.80,251.01 L281.77,251.28 L282.74,251.54 L283.70,251.81 L284.66,252.10 L285.61,252.40 L286.55,252.73 L287.49,253.08 L288.42,253.45 L289.34,253.83 L290.26,254.23 L291.17,254.64 L292.08,255.07 L292.99,255.50 L293.88,255.94 L294.79,256.39 L295.68,256.87 L296.39,257.48 L296.98,258.26 L297.49,259.15 L297.99,260.08 L298.51,260.98 L299.09,261.78 L299.78,262.43 L300.58,263.00 L301.44,263.53 L302.33,264.03 L303.21,264.55 L304.05,265.11 L304.82,265.74 L305.55,266.45 L306.25,267.20 L306.93,267.98 L307.61,268.75 L308.31,269.49 L309.02,270.17 L309.78,270.77 L310.58,271.26 L311.43,271.71 L312.32,272.16 L313.24,272.58 L314.19,272.99 L315.15,273.35 L316.13,273.68 L317.11,273.96 L318.10,274.19 L319.07,274.36 L320.04,274.47 L321.01,274.57 L321.99,274.66 L322.98,274.75 L323.97,274.82 L324.96,274.89 L325.96,274.95 L326.96,275.01 L327.97,275.06 L328.98,275.11 L329.98,275.16 L330.99,275.21 L332.00,275.25 L333.01,275.30 L334.02,275.34 L335.02,275.39 L336.03,275.43 L337.03,275.49 L338.03,275.54 L339.03,275.59 L340.02,275.64 L341.02,275.68 L342.02,275.72 L343.02,275.77 L344.02,275.81 L345.02,275.85 L346.02,275.89 L347.02,275.94 L348.02,275.98 L349.02,276.03 L350.02,276.08 L351.02,276.13 L352.01,276.19 L353.01,276.25 L354.01,276.31 L355.01,276.38 L356.00,276.46 L357.00,276.54 L358.00,276.63 L359.00,276.72 L359.99,276.82 L360.99,276.93 L361.98,277.04 L362.97,277.16 L363.96,277.29 L364.95,277.42 L365.95,277.57 L366.94,277.73 L367.94,277.92 L368.92,278.14 L369.87,278.38 L370.80,278.67 L371.69,279.09 L372.56,279.59 L373.42,280.14 L374.28,280.70 L375.15,281.22 L376.04,281.66 L376.96,282.00 L377.91,282.30 L378.86,282.58 L379.83,282.84 L380.81,283.08 L381.80,283.31 L382.78,283.53 L383.76,283.73 L384.74,283.93 L385.72,284.12 L386.70,284.31 L387.68,284.49 L388.67,284.67 L389.66,284.84 L390.64,285.01 L391.63,285.16 L392.62,285.32 L393.61,285.46 L394.60,285.60 L395.60,285.73 L396.59,285.86 L397.58,285.98 L398.57,286.09 L399.56,286.19 L400.56,286.30 L401.55,286.40 L402.55,286.51 L403.54,286.60 L404.54,286.70 L405.53,286.79 L406.53,286.87 L407.53,286.95 L408.52,287.03 L409.52,287.10 L410.52,287.16 L411.52,287.22 L412.52,287.28 L413.00,287.30" stroke="#0000ff" stroke-width="1.3"/>
<path d="M58.20,57.10 L59.20,57.13 L60.20,57.17 L61.20,57.20 L62.20,57.24 L63.20,57.27 L64.20,57.31 L65.20,57.35 L66.20,57.39 L67.20,57.43 L68.20,57.47 L69.20,57.51 L70.20,57.56 L71.20,57.60 L72.20,57.65 L73.19,57.69 L74.19,57.74 L75.19,57.78 L76.19,57.83 L77.19,57.88 L78.19,57.93 L79.19,57.98 L80.19,58.03 L81.19,58.08 L82.18,58.14 L83.18,58.19 L84.18,58.24 L85.18,58.30 L86.18,58.35 L87.18,58.41 L88.18,58.46 L89.17,58.52 L90.17,58.58 L91.17,58.63 L92.17,58.69 L93.17,58.75 L94.17,58.81 L95.16,58.87 L96.16,58.93 L97.16,58.99 L98.16,59.05 L99.16,59.12 L100.15,59.18 L101.15,59.24 L102.15,59.31 L103.15,59.37 L104.15,59.43 L105.14,59.50 L106.14,59.56 L107.14,59.63 L108.14,59.69 L109.13,59.76 L110.13,59.83 L111.13,59.89 L112.13,59.96 L113.12,60.03 L114.12,60.10 L115.12,60.16 L116.12,60.23 L117.11,60.30 L118.11,60.37 L119.11,60.44 L120.11,60.51 L121.10,60.58 L122.10,60.65 L123.10,60.73 L124.09,60.82 L125.09,60.90 L126.09,60.99 L127.08,61.08 L128.08,61.17 L129.07,61.26 L130.07,61.35 L131.07,61.44 L132.06,61.53 L133.06,61.62 L134.05,61.71 L135.05,61.80 L136.05,61.89 L137.04,61.97 L138.04,62.05 L139.04,62.13 L140.03,62.20 L141.03,62.27 L142.03,62.34 L143.03,62.41 L144.03,62.47 L145.02,62.53 L146.02,62.60 L147.02,62.65 L148.02,62.71 L149.02,62.77 L150.02,62.82 L151.02,62.87 L152.02,62.93 L153.02,62.98 L154.02,63.03 L155.03,63.08 L156.03,63.13 L157.03,63.17 L158.03,63.22 L159.03,63.27 L160.03,63.32 L161.03,63.36 L162.03,63.41 L163.03,63.46 L164.03,63.51 L165.03,63.55 L166.03,63.60 L167.04,63.65 L168.04,63.70 L169.04,63.75 L170.03,63.80 L171.03,63.85 L172.03,63.91 L173.03,63.96 L174.03,64.02 L175.03,64.08 L176.03,64.14 L177.02,64.20 L178.02,64.26 L179.02,64.32 L180.01,64.39 L181.01,64.46 L182.00,64.53 L183.00,64.60 L183.99,64.68 L184.99,64.76 L185.98,64.84 L186.97,64.92 L187.96,65.01 L188.95,65.10 L189.95,65.19 L190.94,65.29 L191.93,65.40 L192.92,65.52 L193.91,65.64 L194.90,65.77 L195.89,65.91 L196.89,66.06 L197.88,66.21 L198.87,66.37 L199.86,66.54 L200.85,66.71 L201.84,66.89 L202.83,67.08 L203.81,67.27 L204.80,67.47 L205.78,67.67 L206.76,67.88 L207.74,68.09 L208.72,68.30 L209.70,68.53 L210.67,68.75 L211.64,68.98 L212.61,69.21 L213.58,69.45 L214.54,69.69 L215.50,69.93 L216.47,70.19 L217.43,70.46 L218.39,70.75 L219.35,71.05 L220.30,71.36 L221.26,71.68 L222.21,72.02 L223.15,72.37 L224.09,72.73 L225.03,73.10 L225.95,73.48 L226.88,73.86 L227.79,74.26 L228.69,74.66 L229.59,75.07 L230.48,75.51 L231.37,75.96 L232.25,76.44 L233.13,76.93 L234.00,77.44 L234.86,77.96 L235.72,78.49 L236.56,79.04 L237.40,79.59 L238.23,80.16 L239.05,80.73 L239.86,81.30 L240.66,81.89 L241.46,82.49 L242.24,83.12 L243.01,83.76 L243.78,84.41 L244.53,85.08 L245.27,85.75 L246.00,86.44 L246.72,87.13 L247.43,87.83 L248.15,88.54 L248.86,89.25 L249.56,89.99 L250.24,90.73 L250.89,91.50 L251.50,92.28 L252.06,93.08 L252.58,93.91 L253.09,94.77 L253.57,95.65 L254.04,96.54 L254.48,97.45 L254.90,98.37 L255.31,99.29 L255.69,100.22 L256.06,101.15 L256.39,102.09 L256.68,103.04 L256.96,104.01 L257.23,104.98 L257.49,105.95 L257.77,106.91 L258.08,107.86 L258.42,108.80 L258.85,109.70 L259.33,110.58 L259.66,111.50 L259.93,112.45 L260.19,113.41 L260.43,114.39 L260.64,115.37 L260.84,116.36 L261.02,117.36 L261.17,118.36 L261.31,119.35 L261.43,120.35 L261.53,121.34 L261.63,122.33 L261.72,123.32 L261.80,124.32 L261.88,125.31 L261.95,126.31 L262.02,127.31 L262.08,128.31 L262.14,129.31 L262.20,130.31 L262.25,131.31 L262.30,132.31 L262.35,133.31 L262.39,134.31 L262.43,135.31 L262.47,136.31 L262.51,137.31 L262.55,138.31 L262.57,139.31 L262.60,140.31 L262.62,141.31 L262.64,142.31 L262.66,143.31 L262.68,144.32 L262.70,145.32 L262.72,146.32 L262.73,147.32 L262.75,148.32 L262.77,149.32 L262.80,150.32 L262.82,151.32 L262.85,152.32 L262.88,153.32 L262.92,154.31 L262.97,155.31 L263.02,156.30 L263.11,157.30 L263.24,158.29 L263.39,159.28 L263.54,160.27 L263.69,161.26 L263.85,162.25 L264.01,163.23 L264.19,164.22 L264.37,165.20 L264.56,166.19 L264.75,167.17 L264.95,168.15 L265.15,169.13 L265.36,170.11 L265.57,171.08 L265.80,172.06 L266.03,173.03 L266.28,173.99 L266.54,174.96 L266.80,175.93 L267.07,176.89 L267.34,177.85 L267.62,178.82 L267.89,179.78 L268.16,180.74 L268.41,181.73 L268.65,182.76 L268.87,183.82 L269.09,184.89 L269.31,185.95 L269.55,186.98 L269.81,187.96 L270.11,188.87 L270.45,189.69 L270.84,190.41 L271.36,191.04 L272.09,191.61 L272.97,192.14 L273.95,192.62 L274.96,193.07 L275.95,193.48 L276.88,193.85 L277.80,194.19 L278.75,194.50 L279.70,194.79 L280.66,195.07 L281.64,195.33 L282.61,195.59 L283.58,195.85 L284.56,196.11 L285.52,196.39 L286.48,196.69 L287.52,196.96 L288.63,197.21 L289.78,197.44 L290.92,197.68 L292.04,197.94 L293.09,198.22 L294.03,198.54 L294.83,198.92 L295.45,199.37 L295.85,199.93 L296.13,200.86 L296.63,201.57 L297.32,202.19 L298.14,202.77 L299.06,203.30 L300.03,203.81 L301.00,204.33 L301.94,204.86 L302.81,205.43 L303.60,206.04 L304.38,206.68 L305.14,207.33 L305.91,207.99 L306.67,208.64 L307.44,209.29 L308.23,209.90 L309.03,210.49 L309.85,211.03 L310.69,211.57 L311.55,212.11 L312.42,212.66 L313.31,213.19 L314.21,213.69 L315.12,214.14 L316.03,214.54 L316.96,214.85 L317.90,215.08 L318.85,215.24 L319.81,215.38 L320.79,215.51 L321.78,215.62 L322.78,215.72 L323.79,215.82 L324.80,215.90 L325.82,215.98 L326.83,216.05 L327.84,216.12 L328.84,216.19 L329.83,216.26 L330.83,216.32 L331.83,216.38 L332.83,216.44 L333.83,216.49 L334.82,216.54 L335.82,216.59 L336.82,216.64 L337.82,216.68 L338.82,216.72 L339.82,216.77 L340.82,216.81 L341.82,216.85 L342.82,216.89 L343.82,216.94 L344.82,216.98 L345.82,217.03 L346.82,217.08 L347.81,217.12 L348.81,217.18 L349.81,217.23 L350.81,217.29 L351.81,217.35 L352.81,217.41 L353.81,217.47 L354.81,217.53 L355.80,217.59 L356.80,217.66 L357.80,217.72 L358.80,217.80 L359.80,217.87 L360.79,217.96 L361.79,218.04 L362.78,218.14 L363.77,218.24 L364.77,218.36 L365.77,218.49 L366.76,218.63 L367.76,218.79 L368.74,218.97 L369.71,219.17 L370.67,219.39 L371.62,219.67 L372.55,220.02 L373.48,220.40 L374.39,220.82 L375.31,221.24 L376.23,221.66 L377.16,222.06 L378.09,222.42 L379.03,222.74 L379.98,223.05 L380.94,223.36 L381.90,223.65 L382.86,223.95 L383.82,224.23 L384.79,224.50 L385.76,224.76 L386.73,225.00 L387.70,225.22 L388.68,225.43 L389.66,225.61 L390.63,225.78 L391.62,225.93 L392.60,226.09 L393.59,226.23 L394.58,226.37 L395.57,226.50 L396.56,226.62 L397.56,226.75 L398.55,226.86 L399.55,226.98 L400.54,227.08 L401.54,227.19 L402.54,227.30 L403.54,227.40 L404.53,227.50 L405.53,227.60 L406.53,227.70 L407.52,227.80 L408.52,227.90 L409.51,228.00 L410.51,228.09 L411.50,228.17 L412.50,228.26 L413.00,228.30" stroke="#000" stroke-width="1.3" stroke-dasharray="4.52,4.52"/>
<path d="M58.20,57.10 L59.20,57.10 L60.20,57.10 L61.20,57.10 L62.20,57.10 L63.20,57.10 L64.20,57.11 L65.20,57.11 L66.20,57.11 L67.20,57.11 L68.20,57.12 L69.20,57.12 L70.20,57.12 L71.20,57.13 L72.20,57.13 L73.20,57.14 L74.20,57.14 L75.20,57.14 L76.20,57.15 L77.20,57.16 L78.20,57.16 L79.20,57.17 L80.20,57.17 L81.20,57.18 L82.20,57.19 L83.20,57.19 L84.20,57.20 L85.20,57.21 L86.20,57.22 L87.20,57.22 L88.20,57.23 L89.20,57.24 L90.20,57.25 L91.20,57.26 L92.20,57.27 L93.20,57.28 L94.20,57.29 L95.20,57.30 L96.20,57.31 L97.20,57.32 L98.20,57.33 L99.20,57.34 L100.20,57.35 L101.20,57.36 L102.20,57.37 L103.20,57.38 L104.20,57.39 L105.20,57.41 L106.20,57.42 L107.20,57.43 L108.20,57.44 L109.20,57.46 L110.20,57.47 L111.20,57.48 L112.20,57.49 L113.20,57.51 L114.20,57.52 L115.20,57.53 L116.20,57.55 L117.20,57.56 L118.20,57.57 L119.20,57.59 L120.20,57.60 L121.20,57.62 L122.20,57.64 L123.20,57.65 L124.20,57.67 L125.20,57.70 L126.20,57.72 L127.20,57.75 L128.20,57.77 L129.20,57.80 L130.20,57.83 L131.20,57.86 L132.20,57.90 L133.20,57.93 L134.20,57.97 L135.19,58.00 L136.19,58.04 L137.19,58.08 L138.19,58.12 L139.19,58.16 L140.19,58.21 L141.19,58.26 L142.18,58.33 L143.18,58.40 L144.18,58.48 L145.18,58.56 L146.17,58.64 L147.17,58.72 L148.17,58.79 L149.17,58.86 L150.16,58.91 L151.16,58.95 L152.16,59.00 L153.16,59.04 L154.16,59.08 L155.16,59.12 L156.16,59.15 L157.16,59.19 L158.16,59.22 L159.16,59.25 L160.16,59.28 L161.16,59.31 L162.16,59.34 L163.16,59.36 L164.16,59.39 L165.16,59.42 L166.16,59.44 L167.16,59.47 L168.16,59.49 L169.16,59.51 L170.16,59.54 L171.16,59.56 L172.16,59.59 L173.16,59.61 L174.16,59.64 L175.16,59.66 L176.16,59.69 L177.16,59.72 L178.16,59.74 L179.16,59.77 L180.16,59.80 L181.16,59.84 L182.16,59.87 L183.16,59.91 L184.16,59.94 L185.15,59.98 L186.15,60.02 L187.15,60.06 L188.15,60.11 L189.15,60.16 L190.14,60.21 L191.14,60.26 L192.14,60.32 L193.14,60.38 L194.14,60.45 L195.13,60.52 L196.13,60.59 L197.13,60.67 L198.13,60.75 L199.13,60.84 L200.13,60.93 L201.13,61.02 L202.12,61.12 L203.12,61.22 L204.12,61.33 L205.11,61.43 L206.11,61.55 L207.10,61.66 L208.10,61.78 L209.09,61.90 L210.08,62.03 L211.07,62.16 L212.06,62.29 L213.05,62.42 L214.03,62.56 L215.02,62.70 L216.00,62.85 L216.99,63.02 L217.97,63.20 L218.95,63.39 L219.93,63.60 L220.91,63.81 L221.89,64.04 L222.86,64.27 L223.84,64.52 L224.81,64.77 L225.78,65.02 L226.74,65.28 L227.71,65.54 L228.67,65.81 L229.63,66.08 L230.59,66.36 L231.54,66.65 L232.50,66.95 L233.45,67.27 L234.40,67.59 L235.35,67.93 L236.29,68.27 L237.23,68.62 L238.16,68.97 L239.09,69.34 L240.02,69.71 L240.95,70.08 L241.88,70.46 L242.82,70.85 L243.75,71.25 L244.68,71.65 L245.60,72.08 L246.51,72.51 L247.40,72.97 L248.27,73.44 L249.12,73.94 L249.94,74.46 L250.75,75.02 L251.55,75.62 L252.35,76.26 L253.12,76.93 L253.87,77.64 L254.58,78.37 L255.24,79.12 L255.84,79.88 L256.40,80.67 L256.94,81.49 L257.46,82.35 L257.96,83.24 L258.43,84.15 L258.87,85.08 L259.26,86.02 L259.62,86.96 L259.92,87.91 L260.17,88.85 L260.42,89.80 L260.65,90.77 L260.87,91.74 L261.07,92.73 L261.26,93.72 L261.43,94.72 L261.59,95.72 L261.73,96.72 L261.84,97.72 L261.94,98.71 L262.02,99.71 L262.09,100.70 L262.15,101.70 L262.21,102.69 L262.26,103.69 L262.31,104.69 L262.35,105.69 L262.39,106.70 L262.43,107.70 L262.46,108.70 L262.49,109.70 L262.52,110.70 L262.54,111.70 L262.57,112.70 L262.58,113.70 L262.60,114.70 L262.61,115.71 L262.63,116.71 L262.64,117.71 L262.66,118.71 L262.68,119.71 L262.70,120.71 L262.72,121.71 L262.75,122.70 L262.79,123.70 L262.84,124.69 L262.93,125.68 L263.06,126.67 L263.22,127.66 L263.40,128.64 L263.60,129.63 L263.82,130.61 L264.04,131.59 L264.26,132.57 L264.47,133.55 L264.68,134.52 L264.91,135.50 L265.15,136.47 L265.41,137.43 L265.67,138.40 L265.94,139.36 L266.20,140.33 L266.47,141.29 L266.73,142.26 L266.98,143.23 L267.22,144.21 L267.43,145.20 L267.64,146.19 L267.85,147.19 L268.06,148.18 L268.30,149.15 L268.56,150.10 L268.86,151.02 L269.22,151.94 L269.67,152.91 L270.20,153.88 L270.79,154.77 L271.44,155.49 L272.12,155.96 L272.90,156.29 L273.79,156.56 L274.76,156.79 L275.79,156.99 L276.84,157.17 L277.91,157.36 L278.95,157.56 L279.95,157.79 L280.92,158.04 L281.88,158.31 L282.85,158.57 L283.81,158.85 L284.77,159.13 L285.73,159.41 L286.69,159.70 L287.65,159.99 L288.60,160.28 L289.56,160.57 L290.52,160.85 L291.50,161.12 L292.49,161.38 L293.48,161.65 L294.44,161.95 L295.37,162.28 L296.24,162.67 L297.12,163.17 L297.98,163.81 L298.65,164.54 L299.00,165.43 L299.21,166.51 L299.60,167.21 L300.42,167.64 L301.48,167.99 L302.49,168.39 L303.35,168.89 L304.20,169.42 L305.03,169.99 L305.85,170.56 L306.65,171.18 L307.42,171.85 L308.19,172.53 L308.96,173.17 L309.77,173.72 L310.62,174.15 L311.52,174.53 L312.44,174.89 L313.39,175.24 L314.36,175.56 L315.34,175.85 L316.34,176.10 L317.33,176.31 L318.33,176.48 L319.31,176.59 L320.29,176.67 L321.28,176.74 L322.26,176.81 L323.25,176.86 L324.25,176.91 L325.25,176.96 L326.25,177.00 L327.25,177.04 L328.25,177.07 L329.26,177.11 L330.26,177.14 L331.27,177.17 L332.28,177.20 L333.28,177.24 L334.29,177.27 L335.29,177.31 L336.29,177.35 L337.29,177.40 L338.29,177.45 L339.29,177.50 L340.29,177.55 L341.29,177.60 L342.29,177.65 L343.28,177.70 L344.28,177.75 L345.28,177.80 L346.28,177.85 L347.28,177.91 L348.28,177.96 L349.28,178.02 L350.27,178.08 L351.27,178.14 L352.27,178.20 L353.27,178.26 L354.27,178.33 L355.26,178.40 L356.26,178.47 L357.26,178.54 L358.26,178.62 L359.25,178.70 L360.25,178.79 L361.25,178.88 L362.24,178.98 L363.23,179.08 L364.23,179.19 L365.23,179.31 L366.24,179.45 L367.23,179.59 L368.22,179.76 L369.20,179.95 L370.16,180.16 L371.08,180.46 L371.98,180.88 L372.87,181.38 L373.74,181.90 L374.63,182.40 L375.54,182.81 L376.47,183.12 L377.42,183.40 L378.39,183.67 L379.36,183.91 L380.34,184.15 L381.32,184.36 L382.31,184.56 L383.30,184.75 L384.28,184.93 L385.26,185.10 L386.24,185.27 L387.23,185.43 L388.22,185.58 L389.21,185.72 L390.20,185.87 L391.19,186.00 L392.19,186.13 L393.18,186.26 L394.17,186.38 L395.17,186.50 L396.16,186.61 L397.15,186.73 L398.15,186.84 L399.14,186.95 L400.14,187.05 L401.13,187.16 L402.12,187.26 L403.12,187.36 L404.11,187.46 L405.11,187.55 L406.10,187.65 L407.10,187.74 L408.10,187.82 L409.09,187.91 L410.09,187.99 L411.09,188.06 L412.09,188.14 L413.00,188.20" stroke="#ff0000" stroke-width="1.3"/>
</g>
<g stroke="#000" stroke-width="0.85" fill="none">
<rect x="44.5" y="45.0" width="368.5" height="335.5"/>
<path d="M58.4,380.5 v-4.0 M58.4,45.0 v4.0"/>
<path d="M143.7,380.5 v-4.0 M143.7,45.0 v4.0"/>
<path d="M228.9,380.5 v-4.0 M228.9,45.0 v4.0"/>
<path d="M314.1,380.5 v-4.0 M314.1,45.0 v4.0"/>
<path d="M399.4,380.5 v-4.0 M399.4,45.0 v4.0"/>
<path d="M44.5,57.4 h4.0 M413.0,57.4 h-4.0"/>
<path d="M44.5,119.6 h4.0 M413.0,119.6 h-4.0"/>
<path d="M44.5,181.8 h4.0 M413.0,181.8 h-4.0"/>
<path d="M44.5,244.1 h4.0 M413.0,244.1 h-4.0"/>
<path d="M44.5,306.3 h4.0 M413.0,306.3 h-4.0"/>
<path d="M44.5,368.5 h4.0 M413.0,368.5 h-4.0"/>
</g>
</svg>
<div class="t xt" style="left:58.4px">0</div>
<div class="t xt" style="left:143.2px">10</div>
<div class="t xt" style="left:228.4px">20</div>
<div class="t xt" style="left:313.2px">30</div>
<div class="t xt" style="left:399.3px">40</div>
<div class="t yt" style="top:57.4px">1.0</div>
<div class="t yt" style="top:119.6px">0.8</div>
<div class="t yt" style="top:181.8px">0.6</div>
<div class="t yt" style="top:244.1px">0.4</div>
<div class="t yt" style="top:306.3px">0.2</div>
<div class="t yt" style="top:368.5px">0.0</div>
<div class="t" style="left:129px;width:200px;text-align:center;top:411.8px">time/trhSG(0)</div>
<div class="t yl">N<sub>bSG</sub><i>(t)</i><span class="s"></span>N<sub>bSG</sub><i>(0)</i>, N<sub>bFG</sub><i>(t)</i><span class="s"></span>N<sub>bFG</sub><i>(0)</i>, N<sub>bSG</sub><span class="s"></span>N<sub>bFG</sub></div>
</body></html>
